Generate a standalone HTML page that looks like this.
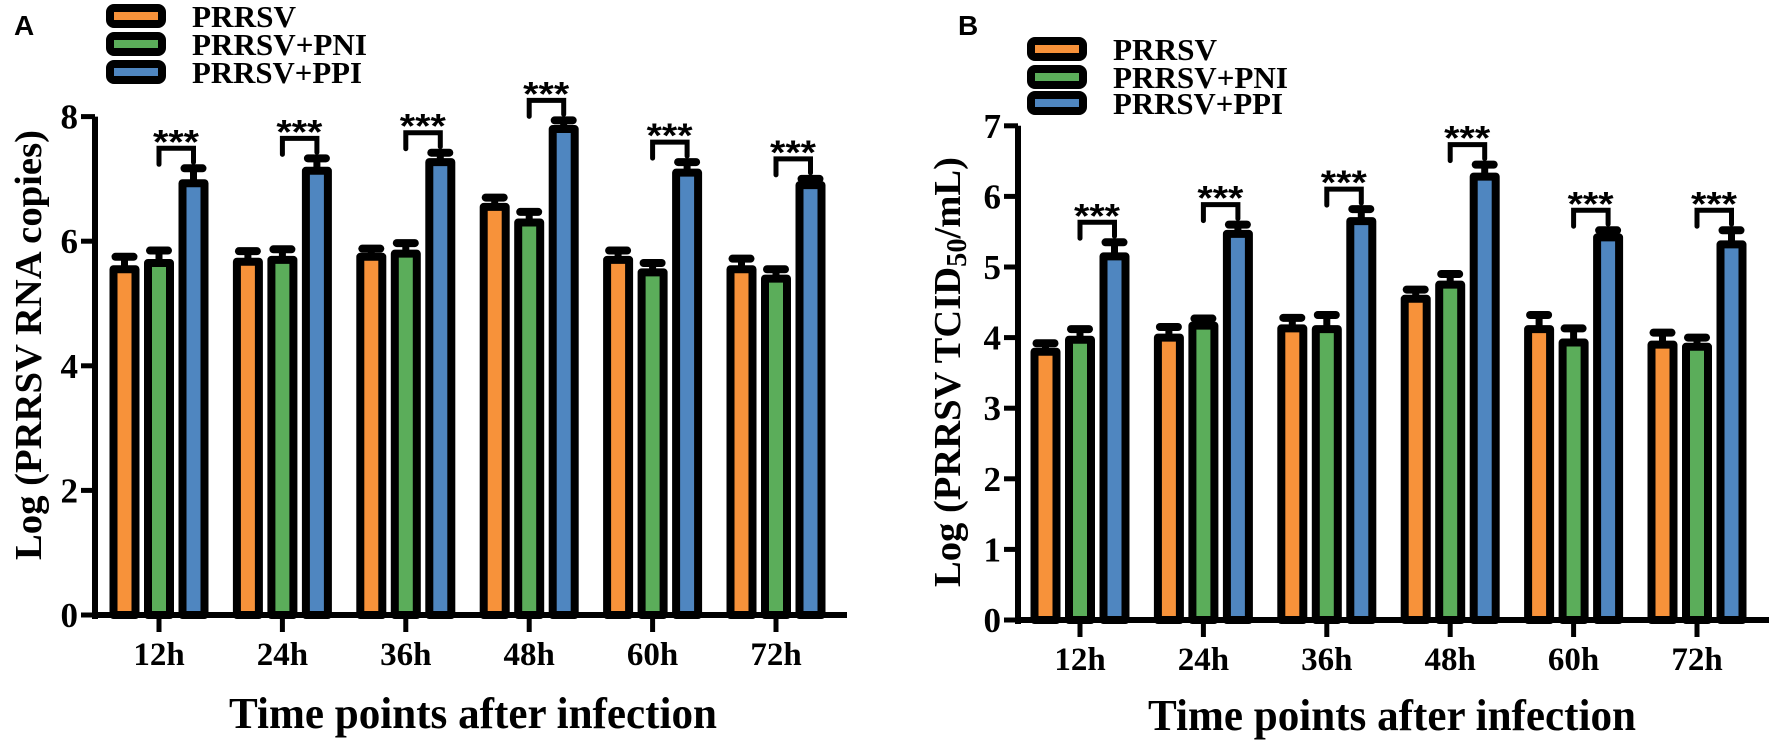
<!DOCTYPE html>
<html><head><meta charset="utf-8"><style>
html,body{margin:0;padding:0;background:#fff;}
svg{display:block;}
text{font-family:"Liberation Serif",serif;font-weight:bold;fill:#000;}
.s{font-family:"Liberation Sans",sans-serif;}
</style></head><body>
<svg id="c" width="1772" height="743" xmlns="http://www.w3.org/2000/svg"></svg>
<script>
const NS="http://www.w3.org/2000/svg";
const svg=document.getElementById('c');
function el(t,a,txt){const e=document.createElementNS(NS,t);for(const k in a)e.setAttribute(k,a[k]);if(txt!==undefined)e.textContent=txt;svg.appendChild(e);return e;}
const cols=['#F7923A','#5BAD5A','#4F86C0'];
const labels=['12h','24h','36h','48h','60h','72h'];
function panel(o){
  const {ax,y0,unit,xend,g0,gs,data,ymax,step,lab,title,titlecx,titlecy,legx,legy,ytitle}=o;
  el('line',{x1:ax,y1:y0+4,x2:ax,y2:y0-ymax*unit,stroke:'#000','stroke-width':6});
  el('line',{x1:ax-3,y1:y0,x2:xend,y2:y0,stroke:'#000','stroke-width':6});
  for(let v=0;v<=ymax;v+=step){const y=y0-v*unit;
    el('line',{x1:ax-14,y1:y,x2:ax,y2:y,stroke:'#000','stroke-width':5});
    el('text',{x:ax-17,y:y+12,'text-anchor':'end','font-size':35},String(v));}
  data.forEach((g,i)=>{const cx=g0+gs*i;
    el('line',{x1:cx,y1:y0,x2:cx,y2:y0+17,stroke:'#000','stroke-width':5});
    el('text',{x:cx,y:y0+50,'text-anchor':'middle','font-size':33},labels[i]);
    g.forEach((b,j)=>{const bx=cx+(j-1)*34.5;const top=y0-b[0]*unit;const et=y0-(b[0]+b[1])*unit;
      el('line',{x1:bx,y1:top,x2:bx,y2:et,stroke:'#000','stroke-width':7});
      el('line',{x1:bx-9,y1:et,x2:bx+9,y2:et,stroke:'#000','stroke-width':8,'stroke-linecap':'round'});
      el('rect',{x:bx-11,y:top,width:22,height:y0-top,fill:cols[j],stroke:'#000','stroke-width':8,'stroke-linejoin':'round'});
    });
    const bb=g[2];const et=y0-(bb[0]+bb[1])*unit;const by=et-20;
    el('polyline',{points:`${cx},${by+16} ${cx},${by} ${cx+34.5},${by} ${cx+34.5},${by+14}`,fill:'none',stroke:'#000','stroke-width':5,'stroke-linecap':'round'});
    el('text',{x:cx+17,y:by+5,'text-anchor':'middle','font-size':34,'class':'s',textLength:46,lengthAdjust:'spacingAndGlyphs'},'***');
  });
  el('text',{x:titlecx,y:titlecy,'text-anchor':'middle','font-size':44,textLength:488,lengthAdjust:'spacingAndGlyphs'},title);
  const yt=el('text',{x:0,y:0,'text-anchor':'middle','font-size':38,textLength:430,lengthAdjust:'spacingAndGlyphs',transform:`translate(${ytitle[0]},${ytitle[1]}) rotate(-90)`});
  ytitle[2](yt);
  el('text',{x:lab[0],y:lab[1],'font-size':28,'class':'s'},lab[2]);
  ['PRRSV','PRRSV+PNI','PRRSV+PPI'].forEach((t,k)=>{const y=legy[k];
    el('rect',{x:legx+4,y:y-8,width:52,height:16,rx:4,fill:cols[k],stroke:'#000','stroke-width':8});
    const tl=[104,175,170][k];
    el('text',{x:legx+86,y:y+11,'font-size':31,textLength:tl,lengthAdjust:'spacingAndGlyphs'},t);
  });
}
panel({ax:95,y0:615,unit:62.3,xend:847,g0:159,gs:123.4,ymax:8,step:2,
 data:[[[5.55,.2],[5.65,.2],[6.93,.24]],[[5.67,.17],[5.7,.17],[7.13,.2]],[[5.75,.13],[5.8,.17],[7.27,.15]],[[6.55,.15],[6.3,.17],[7.8,.14]],[[5.7,.15],[5.5,.15],[7.1,.17]],[[5.55,.17],[5.4,.15],[6.9,.1]]],
 lab:[14,35,'A'],title:'Time points after infection',titlecx:473,titlecy:728,
 legx:106,legy:[16,44,72],
 ytitle:[41,345,t=>{t.textContent='Log (PRRSV RNA copies)';}]});
panel({ax:1018,y0:620,unit:70.6,xend:1769,g0:1080,gs:123.4,ymax:7,step:1,
 data:[[[3.8,.12],[3.97,.15],[5.15,.2]],[[4.0,.15],[4.17,.1],[5.47,.13]],[[4.13,.15],[4.12,.2],[5.65,.17]],[[4.55,.13],[4.75,.15],[6.28,.17]],[[4.12,.2],[3.93,.2],[5.42,.1]],[[3.9,.17],[3.87,.13],[5.32,.2]]],
 lab:[958,35,'B'],title:'Time points after infection',titlecx:1392,titlecy:730,
 legx:1027,legy:[49,77,103],
 ytitle:[960,372,t=>{t.appendChild(document.createTextNode('Log (PRRSV TCID'));const s=document.createElementNS(NS,'tspan');s.setAttribute('font-size','28');s.setAttribute('dy','6');s.textContent='50';t.appendChild(s);const s2=document.createElementNS(NS,'tspan');s2.setAttribute('dy','-6');s2.textContent='/mL)';t.appendChild(s2);}]});
</script>
</body></html>
